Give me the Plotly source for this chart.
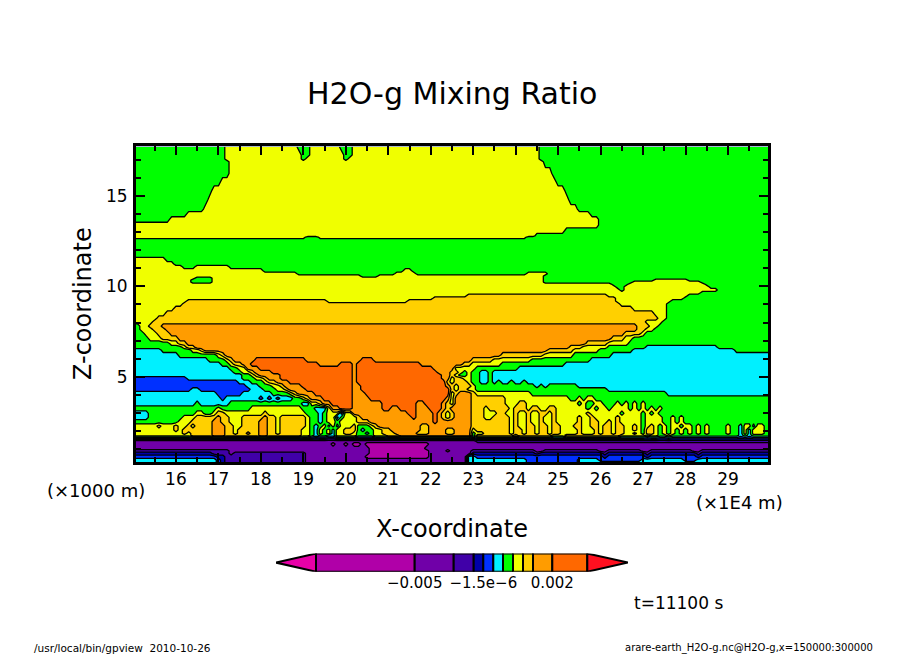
import bisect
import plotly.graph_objects as go

# band number of each filled colour (1 = lowest mixing ratio, 11 = highest)
BAND_COLORS = ["#B000A8", "#7000A8", "#4000A8", "#0000A8", "#0030FF", "#00F0FF",
               "#00FF00", "#F0FF00", "#FFD000", "#FF9C00", "#FF6800"]
UNDER_COLOR = "#E800A8"
OVER_COLOR = "#FF1020"

# column positions (x1E4 m)
X_COLS = [150 + i for i in range(151)]

# height of each row (x1000 m)
Z_ROWS = [17.73, 17.27, 17.05, 16.9, 16.25, 15.79, 15.33, 14.78, 14.28, 14.0, 13.71, 13.39, 13.08, 12.79, 12.73,
          12.56, 11.73, 11.49, 11.24, 11.09, 10.87, 10.7, 10.57, 10.46, 10.35, 10.24, 10.13, 9.98, 9.8, 9.65,
          9.5, 9.34, 9.19, 9.02, 8.78, 8.51, 8.23, 8.04, 7.8, 7.62, 7.4, 7.12, 6.84, 6.62, 6.48, 6.2, 5.92,
          5.7, 5.46, 5.24, 5.09, 4.91, 4.72, 4.48, 4.3, 4.08, 3.8, 3.52, 3.25, 2.97, 2.75, 2.51, 2.27, 2.05,
          1.86, 1.75, 1.44, 1.27, 1.03, 0.9, 0.76, 0.57, 0.39, 0.24]

# per row: band, x where it ends, next band, ...
ROW_RUNS = [
 [7,17.18,8,18.9,7,19.15,8,19.9,7,20.15,8,24.55,7],
 [7,17.2,8,18.92,7,19.12,8,19.92,7,20.12,8,24.55,7],
 [7,17.2,8,18.95,7,19.05,8,19.95,7,20.05,8,24.6,7],
 [7,17.23,8,24.7,7],
 [7,17.27,8,24.9,7],
 [7,17.03,8,25.0,7],
 [7,16.9,8,25.15,7],
 [7,16.8,8,25.3,7],
 [7,16.7,8,25.5,7],
 [7,16.3,8,25.75,7],
 [7,15.85,8,26.0,7],
 [8,26.0,7],
 [8,25.2,7],
 [8,24.5,7],
 [8,19.05,7,19.4,8,24.3,7],
 [7],
 [7],
 [8,15.75,7],
 [8,16.0,7],
 [8,16.17,7,16.47,8,17.27,7],
 [8,18.1,7,21.35,8,21.55,7],
 [8,18.9,7,21.2,8,21.7,7,24.3,8,24.8,7],
 [8,20.4,7,20.8,8,24.65,7],
 [8,16.45,7,16.9,8,24.65,7],
 [8,16.4,7,16.85,8,24.65,7,27.3,8,28.1,7],
 [8,16.4,7,16.9,8,24.65,7,26.75,8,28.35,7],
 [8,26.25,7,26.7,8,28.5,7],
 [8,26.4,7,26.6,8,28.6,7],
 [8,26.45,7,26.55,8,28.73,7],
 [8,28.4,7],
 [8,22.85,9,26.15,8,28.05,7],
 [8,22.1,9,26.35,8,27.95,7],
 [8,16.3,9,19.6,8,21.5,9,26.4,8,27.7,7],
 [8,16.15,9,26.5,8,27.6,7],
 [8,15.95,9,26.75,8,27.55,7],
 [8,15.75,9,27.25,8,27.58,7],
 [8,15.55,9,27.33,8,27.58,7],
 [8,15.45,9,27.1,8,27.45,7],
 [7,15.13,8,15.4,9,15.7,10,26.9,9,27.15,8,27.35,7],
 [7,15.2,8,15.45,9,15.78,10,26.85,9,27.05,8,27.25,7],
 [7,15.3,8,15.55,9,15.85,10,26.6,9,26.95,8,27.1,7],
 [7,15.4,8,15.65,9,16.05,10,26.3,9,26.6,8,26.8,7],
 [7,15.9,8,16.05,9,16.25,10,25.65,9,26.2,8,26.7,7],
 [7,16.15,8,16.3,9,16.42,10,25.3,9,25.6,8,26.2,7,27.1,6,28.8,7],
 [6,15.7,7,16.4,8,16.55,9,16.65,10,24.75,9,25.4,8,26.0,7,26.8,6,29.2,7],
 [6,16.05,7,17.0,8,17.1,9,17.2,10,23.65,9,24.65,8,25.4,7,26.27,6],
 [6,16.8,7,17.2,8,17.3,9,17.4,10,17.85,11,19.05,10,20.4,11,20.65,10,22.95,9,23.45,8,24.4,7,25.75,6],
 [6,17.05,7,17.3,8,17.4,9,17.55,10,17.75,11,19.35,10,19.85,11,20.15,10,20.25,11,21.75,10,22.75,9,23.0,8,23.7,7,25.15,6],
 [6,17.25,7,17.5,8,17.63,9,17.7,10,18.0,11,20.15,10,20.25,11,22.05,10,22.55,9,22.6,8,23.05,7,24.1,6],
 [6,17.4,7,17.6,8,17.75,9,17.85,10,18.25,11,20.15,10,20.25,11,22.15,10,22.5,9,22.65,8,22.75,7,22.85,8,22.95,7,23.15,6,23.35,7,23.45,6],
 [6,17.55,7,17.75,8,17.9,9,18.0,10,18.45,11,20.15,10,20.25,11,22.25,10,22.45,9,22.6,8,22.7,7,22.85,8,23.0,7,23.15,6,23.35,7,23.45,6],
 [5,16.3,6,17.6,7,17.9,8,18.05,9,18.2,10,18.5,11,20.15,10,20.25,11,22.3,10,22.45,8,22.55,9,22.8,8,22.95,7,23.15,6,23.35,7,23.45,6],
 [5,17.5,6,17.73,7,18.05,8,18.2,9,18.35,10,18.65,11,20.15,10,20.3,11,22.35,10,22.4,9,22.5,8,22.6,9,22.9,8,23.0,7,23.15,6,23.35,7,23.5,6,23.6,7,23.7,6,23.9,7,24.0,6,24.2,7,24.3,6],
 [5,17.65,6,17.95,7,18.3,8,18.45,9,18.6,10,18.95,11,20.15,10,20.35,11,22.4,10,22.45,9,22.55,8,22.65,9,22.95,8,23.1,7,24.45,6,24.55,7,24.7,6,24.8,7,25.5,6],
 [5,16.35,6,16.55,5,17.8,6,18.1,7,18.4,8,18.55,9,18.7,10,19.1,11,20.15,10,20.4,11,22.45,10,22.5,9,22.6,8,22.7,9,22.9,8,23.1,7,26.2,6],
 [6,16.95,5,17.55,6,18.3,7,18.65,8,18.75,9,18.85,10,19.3,11,20.15,10,20.45,11,22.45,10,22.5,8,22.55,9,22.65,10,22.95,9,23.05,8,24.4,7,27.55,6],
 [6,17.05,5,17.15,6,17.95,5,18.05,6,18.15,5,18.25,6,18.35,5,18.45,6,18.75,7,19.0,8,19.1,9,19.2,10,19.45,11,20.15,10,20.55,11,22.35,10,22.45,8,22.55,10,23.0,9,23.75,8,25.3,7,25.45,8,25.6,7,25.7,8,25.85,7],
 [6,16.5,7,16.6,6,17.27,7,19.0,6,19.2,8,19.35,9,19.5,10,19.7,11,20.15,10,20.9,11,21.65,10,21.85,11,22.3,10,22.4,9,22.5,8,22.55,10,23.0,9,23.8,8,24.05,9,24.3,8,25.45,7,25.6,8,25.7,7,25.85,8,26.05,7,26.35,8,26.45,7,26.55,8,26.65,7,26.8,8,26.9,7,27.0,8,27.1,7],
 [7,17.0,8,17.1,7,17.75,8,19.0,7,19.3,6,19.55,7,19.6,8,19.7,10,19.9,11,20.15,10,20.9,11,21.1,10,21.3,11,21.65,10,21.95,11,22.3,10,22.4,9,22.47,8,22.5,10,22.98,9,23.25,8,23.35,9,23.85,8,24.0,9,24.25,8,24.4,9,24.55,8,24.75,9,25.0,8,25.45,7,25.5,8,25.65,7,25.75,8,25.9,7,26.0,8,26.2,7,26.3,8,26.42,7,26.5,8,26.65,7,26.75,8,26.9,7,26.95,8,27.1,7,27.2,8,27.3,7,27.4,8,27.5,7],
 [6,15.4,7,16.45,8,16.65,7,16.85,8,16.95,9,17.2,8,18.05,9,18.2,8,19.1,7,19.35,6,19.5,7,19.6,8,19.85,5,19.95,8,20.2,10,21.45,11,21.62,10,22.03,11,22.2,10,22.3,9,22.4,8,22.5,9,22.55,10,23.0,9,23.25,8,23.55,9,23.8,8,23.95,9,24.05,8,24.25,9,24.4,8,24.55,9,24.75,8,24.9,9,25.0,8,25.7,9,25.8,8,26.45,7,26.55,8,26.95,7,27.05,8,27.15,7,27.25,8,27.35,7,27.45,8,27.5,7],
 [6,15.35,7,16.15,8,16.45,9,16.95,10,17.05,9,17.3,8,17.6,9,18.05,10,18.15,9,18.4,8,18.5,9,19.05,8,19.15,7,19.35,6,19.45,7,19.6,8,19.75,5,19.85,7,19.95,8,20.25,9,20.35,10,21.55,11,21.65,10,22.1,11,22.2,10,22.3,9,22.35,8,22.45,9,22.55,10,23.0,9,23.25,8,23.45,9,23.85,8,23.95,9,24.05,8,24.3,9,24.4,8,24.55,9,24.65,8,24.85,9,25.0,8,25.45,9,25.55,8,25.75,9,25.85,8,26.35,9,26.45,8,26.95,7,27.05,8,27.15,7,27.2,8,27.35,7,27.4,8,27.5,7,27.65,8,27.75,7,27.85,8,27.95,7],
 [7,16.05,8,16.35,9,16.9,10,17.1,9,17.3,8,17.55,9,18.0,10,18.2,9,18.4,8,18.5,9,19.05,8,19.15,7,19.35,6,19.45,7,19.6,8,19.75,7,19.9,8,20.25,9,20.6,10,22.1,11,22.2,10,23.0,9,23.85,8,23.95,9,24.05,8,24.3,9,24.4,8,24.55,9,24.65,8,24.85,9,25.0,8,25.45,9,25.55,8,25.8,9,25.95,8,26.15,9,26.25,8,26.4,9,26.5,8,26.95,7,27.05,8,27.15,7,27.2,8,27.35,7,27.4,8,27.5,7,27.65,8,27.75,7,27.85,8,27.95,7],
 [8,15.55,9,15.65,8,16.0,9,16.1,8,16.25,9,16.35,8,16.45,9,16.9,10,17.15,9,17.4,8,17.55,9,17.95,10,18.2,9,18.4,8,18.5,9,19.05,8,19.15,7,19.3,6,19.4,7,19.5,8,19.6,6,19.7,8,19.8,6,19.9,8,20.2,9,20.3,7,20.6,8,20.7,9,20.8,10,21.75,9,21.95,10,23.0,9,23.85,8,24.0,9,24.1,8,24.25,9,24.45,8,24.6,9,24.75,8,24.85,9,25.05,8,25.4,9,25.6,8,25.8,9,25.95,8,26.1,9,26.3,8,26.4,9,26.55,8,26.75,9,26.85,8,26.95,7,27.05,8,27.15,7,27.2,9,27.3,8,27.4,7,27.5,8,27.6,7,27.65,8,27.75,7,27.8,8,27.9,7,28.0,8,28.15,7,28.25,8,28.35,7,28.45,8,28.6,7,28.95,8,29.05,7,29.25,6,29.4,8,29.45,6,29.5,8,29.6,6,29.65,8,29.75,6,29.8,8,29.85,7],
 [8,15.95,9,16.05,8,16.2,9,16.35,8,16.4,9,16.9,10,17.15,9,17.35,8,17.5,9,18.0,10,18.2,9,18.4,8,18.5,9,19.0,8,19.15,7,19.3,6,19.4,8,19.5,7,19.6,8,19.7,6,19.8,8,20.0,9,20.25,7,20.4,6,20.5,7,20.65,8,20.85,9,21.05,10,21.75,9,22.0,10,22.4,9,22.55,10,22.95,8,23.1,9,23.85,8,24.0,9,24.15,8,24.25,9,24.45,8,24.6,9,24.75,8,24.9,9,25.05,8,25.45,9,25.6,8,25.85,9,25.95,8,26.1,9,26.3,8,26.4,9,26.55,8,26.75,9,26.85,8,27.0,7,27.05,9,27.15,7,27.2,9,27.3,8,27.4,7,27.5,8,27.6,7,27.7,8,27.75,7,27.85,8,27.95,7,28.05,8,28.2,7,28.25,8,28.35,7,28.45,8,28.6,7,28.95,8,29.05,7,29.25,6,29.4,8,29.45,6,29.55,8,29.65,6,29.7,8,29.85,7],
 [8,16.15,9,16.3,8,16.4,9,16.9,10,17.15,9,17.4,8,17.5,9,17.7,10,17.8,9,18.0,10,18.2,9,18.4,8,18.5,9,19.0,8,19.15,7,19.3,6,19.4,8,19.5,7,19.6,8,19.7,6,19.8,8,19.95,9,20.15,8,20.3,7,20.45,6,20.55,7,20.7,8,20.9,9,21.15,10,21.7,9,22.0,10,22.35,9,22.55,10,22.95,7,23.1,8,23.3,9,23.85,8,24.0,9,24.15,8,24.25,9,24.45,8,24.6,9,24.75,8,24.9,9,25.05,8,25.45,9,25.6,8,25.85,9,25.95,8,26.1,9,26.3,8,26.4,9,26.55,8,26.75,7,26.85,8,27.0,7,27.05,9,27.15,7,27.2,9,27.3,8,27.4,7,27.5,8,27.6,7,27.7,8,27.75,7,27.85,8,27.95,7,28.05,8,28.2,7,28.25,8,28.35,7,28.45,8,28.6,7,28.95,8,29.05,7,29.25,6,29.4,8,29.45,6,29.55,8,29.65,6,29.7,8,29.85,7],
 [8,16.4,9,16.9,10,17.15,9,18.0,10,18.2,9,19.0,8,19.15,7,19.3,6,19.4,7,19.6,6,19.75,8,20.25,7,20.7,8,21.0,9,21.3,10,22.95,7,23.1,9,23.95,8,24.05,9,24.9,8,25.2,9,26.5,8,27.1,7,27.2,8,27.4,7,27.55,8,27.65,7,29.25,6,29.4,7,29.45,6,29.55,7,29.65,6,29.7,7],
 [2,23.05,3],
 [2,19.7,1,19.8,2,19.98,1,20.05,2,20.2,1,20.4,2,20.5,1,22.0,2],
 [2,20.6,1,21.9,2],
 [3,17.25,2,20.55,1,21.95,2,22.35,1,22.5,2,23.0,3,24.45,2,24.65,3,26.0,2,26.2,3,27.0,2,27.2,3,28.2,2,28.4,3],
 [4,16.9,3,17.3,2,17.35,3,19.05,2,20.55,1,21.95,2,23.0,4,24.5,3,24.6,4,26.05,3,26.15,4,27.05,3,27.15,4,28.25,3,28.35,4],
 [5,17.0,4,17.15,3,19.05,2,20.5,1,22.0,2,22.9,6,23.05,5,26.05,4,26.15,5,27.05,4,27.15,5,28.3,4,28.4,5],
 [6,17.0,5,17.1,4,17.2,3,19.05,2,22.9,6,24.3,5,25.5,6,26.0,5,27.0,6,28.0,5,28.3,6],
 [6,17.0,5,17.1,4,17.2,3,19.05,2,22.9,6,24.3,5,25.5,6],
]

# colour bar: ends of the colour cells along the bar, its two tips, its tick labels
CB_CELL_EDGES = [40.0, 138.7, 177.7, 197.7, 207.3, 217.3, 227.0, 237.0, 247.0, 257.0, 276.3, 311.3]
CB_TIPS = [0.0, 352.0]
CB_TICK_VALS = [138.7, 207.3, 276.3]
CB_TICK_TEXT = ["\u22120.005", "\u22121.5e\u22126", "0.002"]

X_TICKS = [16, 17, 18, 19, 20, 21, 22, 23, 24, 25, 26, 27, 28, 29]
Z_TICKS = [5, 10, 15]

W, H = 904, 654
x_values = [c / 10 for c in X_COLS]
grid = []
for runs in ROW_RUNS:
    bands, ends = runs[0::2], runs[1::2]
    grid.append([bands[bisect.bisect_right(ends, x)] for x in x_values])
assert len(grid) == len(Z_ROWS)

n = len(BAND_COLORS)
scale = []
for i, c in enumerate(BAND_COLORS):
    scale += [[i / n, c], [(i + 1) / n, c]]

fig = go.Figure()
fig.add_trace(go.Contour(
    x=x_values, y=Z_ROWS, z=grid,
    zmin=0.5, zmax=n + 0.5, colorscale=scale, showscale=False,
    contours=dict(start=0.5, end=n + 0.5, size=1, coloring="fill"),
    line=dict(color="black", width=1.3, smoothing=0),
    xaxis="x", yaxis="y", hoverinfo="skip",
))

# colour bar cells
for i, c in enumerate(BAND_COLORS):
    fig.add_trace(go.Bar(
        y=[0.5], x=[CB_CELL_EDGES[i + 1] - CB_CELL_EDGES[i]], base=[CB_CELL_EDGES[i]],
        orientation="h", width=[1], marker=dict(color=c, line=dict(color="black", width=2)),
        xaxis="x2", yaxis="y2", hoverinfo="skip", showlegend=False,
    ))
for tip, edge, c in [(CB_TIPS[0], CB_CELL_EDGES[0], UNDER_COLOR), (CB_TIPS[1], CB_CELL_EDGES[-1], OVER_COLOR)]:
    fig.add_trace(go.Scatter(
        x=[edge, tip, edge, edge], y=[0, 0.5, 1, 0], mode="lines", fill="toself", fillcolor=c,
        line=dict(color="black", width=2), xaxis="x2", yaxis="y2", hoverinfo="skip", showlegend=False,
    ))

FONT = "DejaVu Sans"
axis_common = dict(showline=True, linecolor="black", linewidth=3, mirror="allticks", ticks="inside",
                   tickcolor="black", tickwidth=2, ticklen=9, showgrid=False, zeroline=False,
                   tickfont=dict(family=FONT, size=17, color="black"))
fig.update_layout(
    width=W, height=H, autosize=False, showlegend=False,
    margin=dict(l=0, r=0, t=0, b=0, pad=0),
    paper_bgcolor="white", plot_bgcolor="white", barmode="overlay",
    xaxis=dict(domain=[136 / W, 768 / W], range=[15.06, 29.94], tickvals=X_TICKS,
               minor=dict(dtick=0.5, ticks="inside", ticklen=5, tickcolor="black", tickwidth=2, showgrid=False),
               ticklabelstandoff=0, anchor="y", **axis_common),
    yaxis=dict(domain=[(H - 462) / H, (H - 146) / H], range=[0.28, 17.77], tickvals=Z_TICKS,
               minor=dict(dtick=1, ticks="inside", ticklen=5, tickcolor="black", tickwidth=2, showgrid=False),
               ticklabelstandoff=2, anchor="x", **axis_common),
    xaxis2=dict(domain=[276 / W, 628 / W], range=CB_TIPS, tickvals=CB_TICK_VALS, ticktext=CB_TICK_TEXT,
                ticks="", showgrid=False, zeroline=False, showline=False, anchor="y2",
                tickfont=dict(family=FONT, size=15, color="black")),
    yaxis2=dict(domain=[(H - 571.7) / H, (H - 553.5) / H], range=[0, 1], visible=False, anchor="x2"),
)


def label(text, px, py, size, angle=0):
    fig.add_annotation(text=text, x=px / W, y=1 - py / H, xref="paper", yref="paper", showarrow=False,
                       font=dict(family=FONT, size=size, color="black"), textangle=angle,
                       xanchor="center", yanchor="middle")


label("H2O-g Mixing Ratio", 452, 93, 30)
label("Z-coordinate", 83, 304, 24, -90)
label("X-coordinate", 452, 529, 24)
label("(\u00d71000 m)", 96, 490, 18)
label("(\u00d71E4 m)", 739, 502, 18)
label("t=11100 s", 678, 603, 17)
label("/usr/local/bin/gpview\u00a0\u00a02010-10-26", 123, 648, 10.5)
label("arare-earth_H2O-g.nc@H2O-g,x=150000:300000", 749, 648, 10)

fig.write_html("out.html", config={"displayModeBar": False},
               post_script="document.body.style.margin='0';document.body.style.overflow='hidden';")
